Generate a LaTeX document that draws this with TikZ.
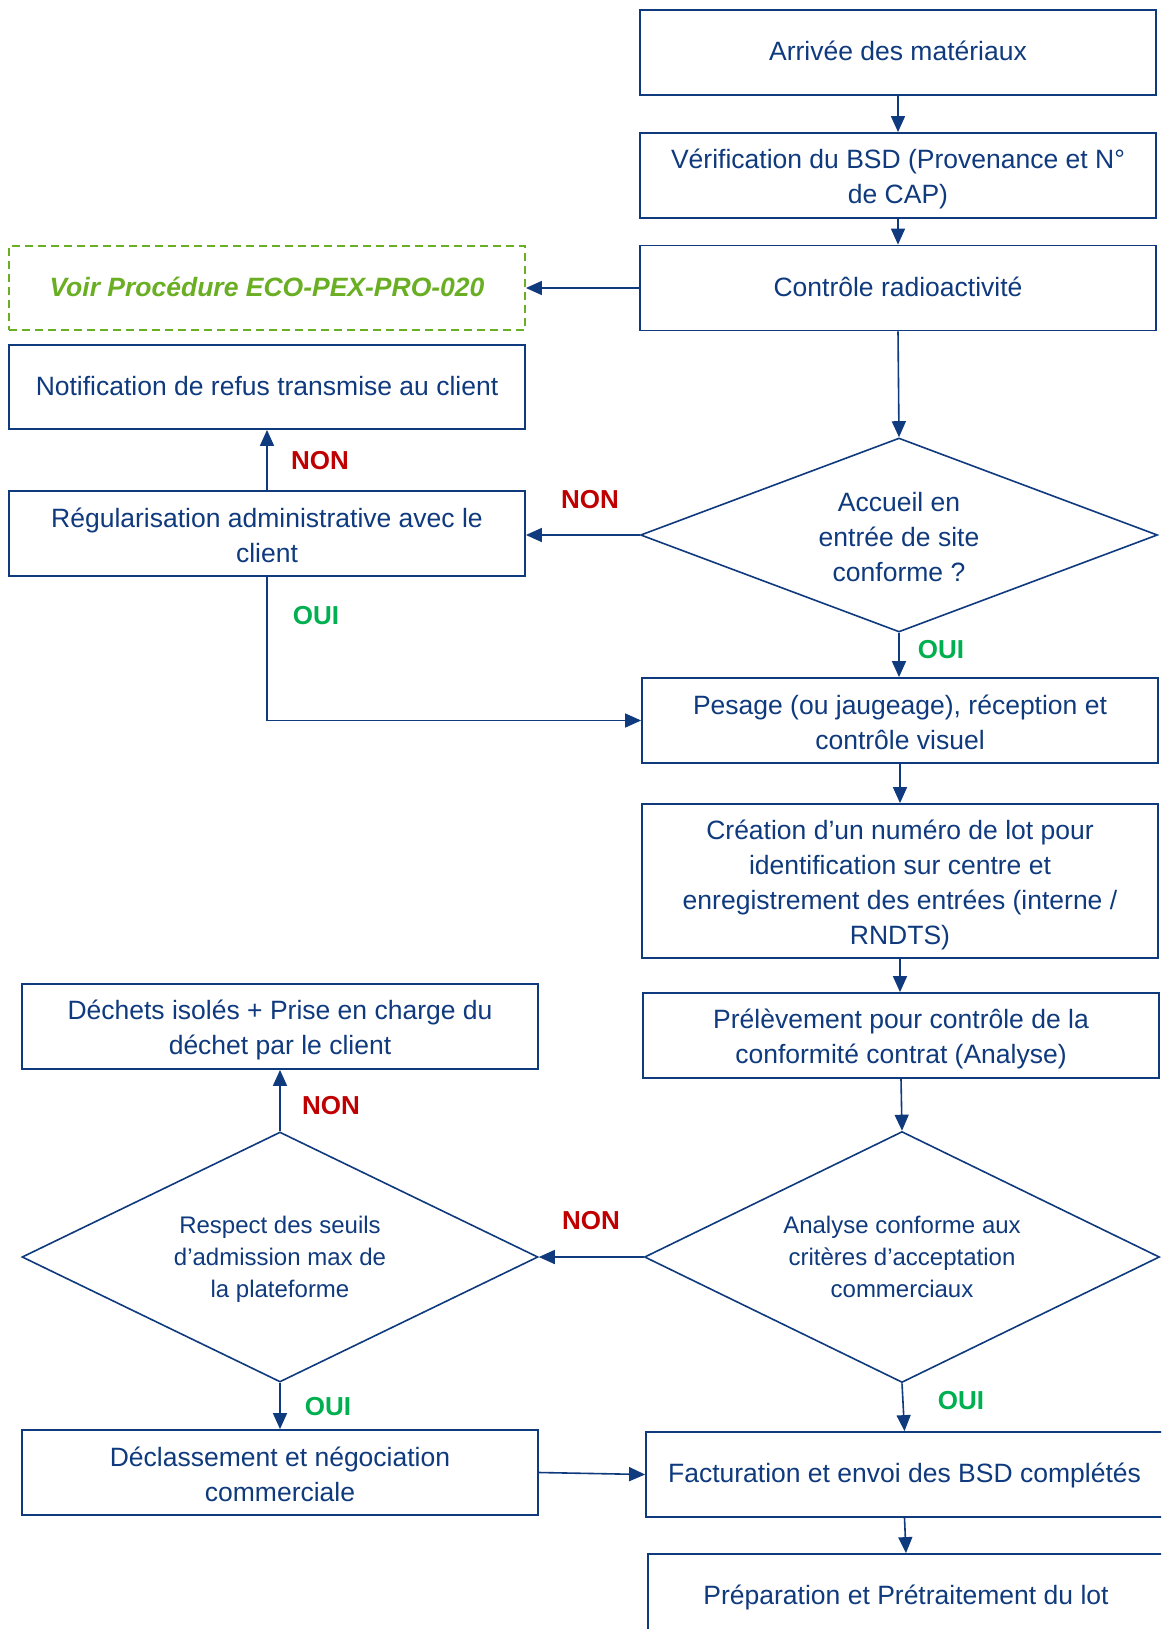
\documentclass[tikz,border=0pt]{standalone}
\usepackage{fontspec}
\setmainfont{Liberation Sans}
\usetikzlibrary{shapes.geometric,arrows.meta}
\definecolor{dblue}{HTML}{0F3A7D}
\definecolor{nred}{HTML}{C00000}
\definecolor{ogreen}{HTML}{00B050}
\definecolor{lgreen}{HTML}{6AAF23}
\newcommand\sst{\rule[-6pt]{0pt}{28pt}}
\newcommand\mst{\rule[-4pt]{0pt}{31pt}}
\newcommand\dst{\rule[-4pt]{0pt}{25pt}}
\begin{document}
\begin{tikzpicture}[x=1pt,y=-1pt,
  box/.style={draw=dblue, line width=1.8pt, minimum width=516pt, minimum height=85pt,
    inner sep=0pt, align=center, text=dblue, font=\fontsize{26.5}{34.7}\selectfont},
  refbox/.style={draw=lgreen, line width=1.8pt, dash pattern=on 8pt off 5pt,
    minimum width=516pt, minimum height=84pt, inner sep=0pt, align=center, text=lgreen,
    font=\fontsize{26.5}{34.7}\selectfont\bfseries\itshape},
  decision/.style={draw=dblue, line width=1.6pt, shape=diamond, inner sep=0pt,
    align=center, text=dblue},
  conn/.style={draw=dblue, line width=1.6pt, -{Triangle[length=16pt,width=14pt]}},
  nonlab/.style={text=nred, font=\fontsize{26}{30}\selectfont\bfseries, inner sep=0pt},
  ouilab/.style={text=ogreen, font=\fontsize{26}{30}\selectfont\bfseries, inner sep=0pt}
]
\useasboundingbox (0,0) rectangle (1161,1629);
\clip (0,0) rectangle (1161,1629);
\fill[white] (0,0) rectangle (1161,1629);

\node[box] (arrivee) at (898,52.5) {\sst Arrivée des matériaux};
\node[box] (verif) at (898,175.5) {\mst Vérification du BSD (Provenance et N°\\\mst de CAP)};
\node[box] (radio) at (898,288) {\sst Contrôle radioactivité};
\node[refbox] (voir) at (267,288) {\sst Voir Procédure ECO-PEX-PRO-020};
\node[box, minimum height=84pt] (notif) at (267,387) {\sst Notification de refus transmise au client};
\node[box] (regul) at (267,533.5) {\mst Régularisation administrative avec le\\\mst client};
\node[decision, minimum width=517pt, minimum height=194pt, aspect=2.66,
  font=\fontsize{26.5}{34.7}\selectfont] (d1) at (899,535) {\mst Accueil en\\\mst entrée de site\\\mst conforme ?};
\node[box] (pesage) at (900,720.5) {\mst Pesage (ou jaugeage), réception et\\\mst contrôle visuel};
\node[box, minimum height=154pt, font=\fontsize{26.5}{35}\selectfont] (creation) at (900,881)
  {\mst Création d’un numéro de lot pour\\\mst identification sur centre et\\\mst enregistrement des entrées (interne /\\\mst RNDTS)};
\node[box] (prelev) at (901,1035.5) {\mst Prélèvement pour contrôle de la\\\mst conformité contrat (Analyse)};
\node[box] (dechets) at (280,1026.5) {\mst Déchets isolés + Prise en charge du\\\mst déchet par le client};
\node[decision, minimum width=516pt, minimum height=250pt, aspect=2.06,
  font=\fontsize{24}{32}\selectfont] (d2) at (280,1257) {\dst Respect des seuils\\\dst d’admission max de\\\dst la plateforme};
\node[decision, minimum width=515pt, minimum height=251pt, aspect=2.06,
  font=\fontsize{24}{32}\selectfont] (d3) at (902,1257) {\dst Analyse conforme aux\\\dst critères d’acceptation\\\dst commerciaux};
\node[box] (declass) at (280,1472.5) {\mst Déclassement et négociation\\\mst commerciale};
\node[box, minimum width=517pt] (factur) at (904.5,1474.5) {\sst Facturation et envoi des BSD complétés};
\node[box, minimum width=516pt] (prep) at (906,1596.5) {\sst Préparation et Prétraitement du lot};

\draw[conn] (arrivee) -- (verif);
\draw[conn] (verif) -- (radio);
\draw[conn] (radio) -- (voir);
\draw[conn] (radio.south) -- (d1.north);
\draw[conn] (d1.west) -- (d1.west -| regul.east);
\draw[conn] (regul) -- (notif);
\draw[conn] (regul.south) |- (pesage.west);
\draw[conn] (d1.south) -- (d1.south |- pesage.north);
\draw[conn] (pesage) -- (pesage |- creation.north);
\draw[conn] (creation) -- (creation |- prelev.north);
\draw[conn] (prelev.south) -- (d3.north);
\draw[conn] (d3.west) -- (d2.east);
\draw[conn] (d2.north) -- (dechets.south);
\draw[conn] (d2.south) -- (declass.north);
\draw[conn] (d3.south) -- (factur.north);
\draw[conn] (declass.east) -- (factur.west);
\draw[conn] (factur.south) -- (prep.north);

\node[nonlab] (n1) at (590,499.5) {NON};
\node[nonlab] (n2) at (320,461) {NON};
\node[ouilab] (o1) at (316,616) {OUI};
\node[ouilab] (o2) at (941,650) {OUI};
\node[nonlab] (n3) at (591,1221) {NON};
\node[nonlab] (n4) at (331,1106) {NON};
\node[ouilab] (o3) at (328,1407) {OUI};
\node[ouilab] (o4) at (961,1401) {OUI};
\end{tikzpicture}
\end{document}
